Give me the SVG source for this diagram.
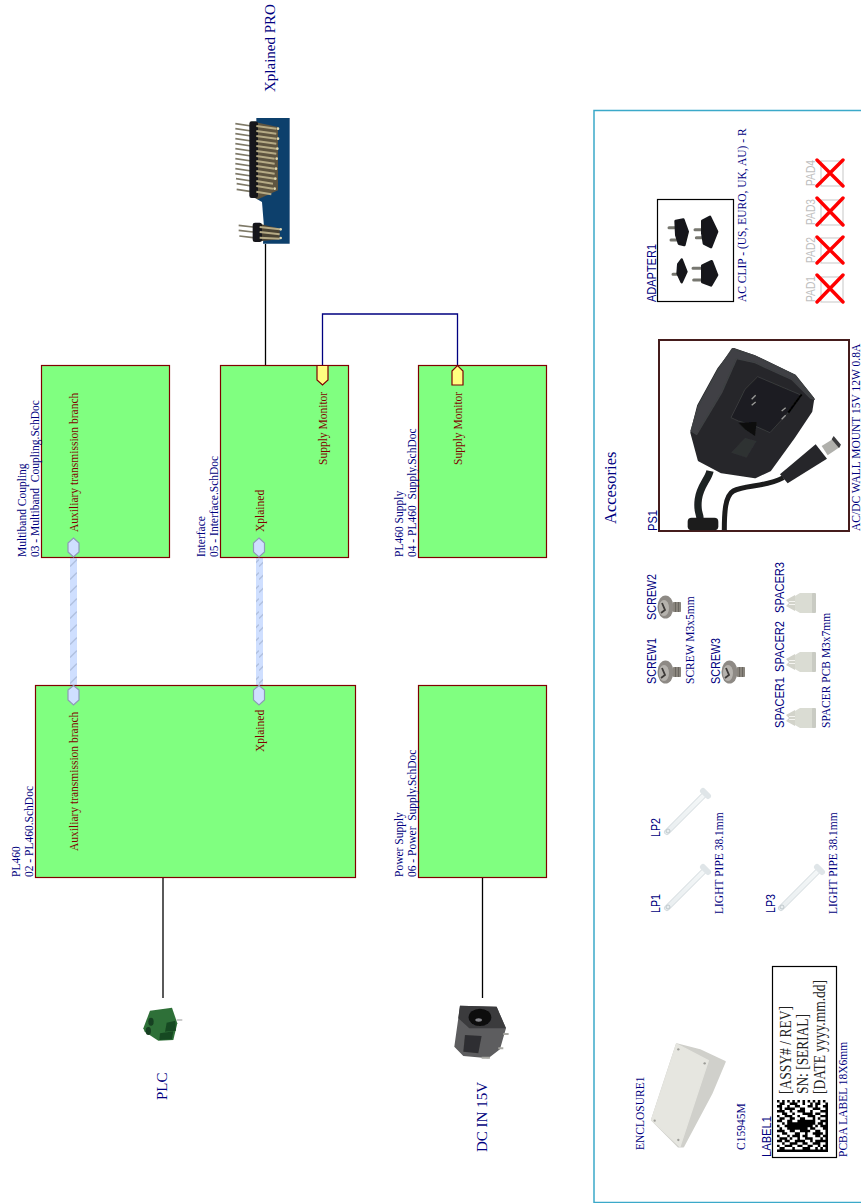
<svg xmlns="http://www.w3.org/2000/svg" width="861" height="1203" viewBox="0 0 861 1203">
<style>
text{font-family:"Liberation Serif","Times New Roman",serif;fill:#000080;font-size:11.500px;white-space:pre}
.sans{font-family:"Liberation Sans",Arial,sans-serif;font-size:13.500px}
.pad{font-family:"Liberation Sans",Arial,sans-serif;font-size:13.500px;fill:#c0c0c0}
.port{fill:#800000;font-size:11.500px}
.big{font-size:15px}
.lab{font-size:16px;fill:#222}
.box{fill:#80ff80;stroke:#800000;stroke-width:1.2}
.wire{fill:none;stroke:#000;stroke-width:1.3}
.sig{fill:none;stroke:#000080;stroke-width:1.3}
.bus{fill:url(#hatch)}
.hp{fill:#cfdfff;stroke:#8c9bb5;stroke-width:1.2}
.yp{fill:#ffff80;stroke:#800000;stroke-width:1.2}
.x{stroke:#ff0000;stroke-width:3.4;stroke-linecap:round}
.pin{stroke:#7f7a68;stroke-width:5}
.prong{stroke:#77776f;stroke-width:9;stroke-linecap:round}
.blk{fill:#15171a;stroke:#15171a;stroke-width:8;stroke-linejoin:round}
</style>
<defs>
<pattern id="hatch" patternUnits="userSpaceOnUse" width="7" height="13" x="0" y="557">
<rect width="7" height="13" fill="#cfdfff"/>
<path d="M0 9.500L7 2.500" stroke="#b0c0e0" stroke-width="1.400"/>
</pattern>
<filter id="soft" x="-10%" y="-10%" width="120%" height="120%"><feGaussianBlur stdDeviation="0.5"/></filter>
<linearGradient id="pipe" x1="0" y1="1" x2="1" y2="0"><stop offset="0" stop-color="#e9eef0"/><stop offset="1" stop-color="#f4f7f8"/></linearGradient>
<g id="screw" filter="url(#soft)">
<rect x="10" y="-5" width="8" height="10" rx="1" fill="#6a6660"/>
<path d="M11 -5V5M14 -5V5M17 -5V5" stroke="#a9a49a" stroke-width="1"/>
<ellipse cx="2.500" cy="0" rx="8" ry="11.500" fill="#8e8a85"/>
<ellipse cx="1" cy="1" rx="5" ry="8" fill="#b5b2ad"/>
<path d="M-1 -4L2 3L-2 6" stroke="#3d3a38" stroke-width="1.800" fill="none"/>
</g>
<g id="spacer" filter="url(#soft)">
<path d="M-9 -8L-18 -3L-15 0L-18 3L-9 8Z" fill="#d2d3ca"/>
<path d="M-15 -1.500H-9M-15 1.500H-9" stroke="#f4f4f0" stroke-width="1"/>
<path d="M-9 -7L-4 -10H9L12 -7V7L9 10H-4L-9 7Z" fill="#dadcd3"/>
<rect x="8" y="-10" width="4" height="20" rx="1" fill="#c9cbc3"/>
</g>
<g id="lpipe" filter="url(#soft)">
<path d="M0 0L38 -38" stroke="#d6dde0" stroke-width="6" stroke-linecap="round"/>
<path d="M0 0L38 -38" stroke="url(#pipe)" stroke-width="4" stroke-linecap="round"/>
<path d="M36 -41L41 -36" stroke="#dfe5e8" stroke-width="6" stroke-linecap="round"/>
<circle cx="1" cy="-1" r="2" fill="none" stroke="#bfc8cc"/>
</g>
</defs>
<rect width="861" height="1203" fill="#fff"/>

<g id="connectors">
<path class="wire" d="M265.500 244V365"/>
<path class="wire" d="M163 877V998"/>
<path class="wire" d="M482.500 877V998"/>
<path class="sig" d="M322.500 365V314H457.500V365"/>
<rect class="bus" x="70" y="557" width="7" height="128"/>
<rect class="bus" x="256" y="557" width="7" height="128"/>
</g>

<g id="multiband">
<rect class="box" x="41.500" y="365.500" width="128" height="192"/>
<text transform="translate(25.500,557) rotate(-90)">Multiband Coupling</text>
<text transform="translate(38.500,557) rotate(-90)">03 - Multiband  Coupling.SchDoc</text>
<polygon class="hp" points="73.500,538 79,543 79,552 73.500,557 68,552 68,543"/>
<text class="port" transform="translate(77.500,532) rotate(-90)">Auxiliary transmission branch</text>
</g>
<g id="interface">
<rect class="box" x="220.500" y="365.500" width="128" height="192"/>
<text transform="translate(204.500,557) rotate(-90)">Interface</text>
<text transform="translate(217.500,557) rotate(-90)">05 - Interface.SchDoc</text>
<polygon class="hp" points="259,538 264.500,543 264.500,552 259,557 253.500,552 253.500,543"/>
<text class="port" transform="translate(263.500,532) rotate(-90)">Xplained</text>
<polygon class="yp" points="317,365.500 328,365.500 328,380 322.500,385 317,380"/>
<text class="port" transform="translate(326.500,465) rotate(-90)">Supply Monitor</text>
</g>
<g id="pl460-supply">
<rect class="box" x="418.500" y="365.500" width="128" height="192"/>
<text transform="translate(402.500,557) rotate(-90)">PL460 Supply</text>
<text transform="translate(415.500,557) rotate(-90)">04 - PL460  Supply.SchDoc</text>
<polygon class="yp" points="452,385 463,385 463,371 457.500,365.500 452,371"/>
<text class="port" transform="translate(461.500,465) rotate(-90)">Supply Monitor</text>
</g>
<g id="pl460">
<rect class="box" x="35.500" y="685.500" width="320" height="192"/>
<text transform="translate(19.500,877) rotate(-90)">PL460</text>
<text transform="translate(32.500,877) rotate(-90)">02 - PL460.SchDoc</text>
<polygon class="hp" points="73.500,685.500 79,690 79,700 73.500,705 68,700 68,690"/>
<polygon class="hp" points="259,685.500 264.500,690 264.500,700 259,705 253.500,700 253.500,690"/>
<text class="port" transform="translate(77.500,851) rotate(-90)">Auxiliary transmission branch</text>
<text class="port" transform="translate(263.500,752) rotate(-90)">Xplained</text>
</g>
<g id="power-supply">
<rect class="box" x="418.500" y="685.500" width="128" height="192"/>
<text transform="translate(402.500,877) rotate(-90)">Power Supply</text>
<text transform="translate(415.500,877) rotate(-90)">06 - Power  Supply.SchDoc</text>
</g>

<g id="xplained-pro">
<text class="big" transform="translate(275,92) rotate(-90)">Xplained PRO</text>
<g transform="translate(228,112) scale(.3333)" filter="url(#soft)">
<path d="M85 18H185V395H105L108 345L102 270L85 260Z" fill="#10406c"/>
<g class="pin">
<path d="M22 35L70 42M22 50L70 57M22 65L70 72M22 80L70 87M22 95L70 102M22 110L70 117M22 125L70 132M22 140L70 147M22 155L70 162M22 170L70 177M22 185L70 192M24 200L70 207M26 215L70 222M26 232L70 239"/>
<path d="M32 340L75 345M32 355L75 360M34 372L75 377"/>
</g>
<path d="M80 30L150 45V235L90 262L80 258Z" fill="#5e5440"/>
<path d="M95 335L155 350V382L95 388Z" fill="#4a4232"/>
<rect class="blk" x="68" y="32" width="18" height="222" rx="3"/>
<rect class="blk" x="78" y="336" width="20" height="50" rx="3"/>
<g stroke="#b5aa85" stroke-width="6">
<path d="M85 42L145 50M85 57L145 65M85 72L145 80M85 87L145 95M85 102L145 110M85 117L145 125M85 132L140 140M85 147L140 155M85 162L140 170M85 177L140 185M85 192L140 200M85 207L135 215M85 222L135 230M85 239L130 247"/>
<path d="M95 345L155 352M95 360L155 367M95 377L155 380"/>
</g>
<g fill="#e0d8b0">
<circle cx="150" cy="50" r="4"/><circle cx="150" cy="80" r="4"/><circle cx="148" cy="110" r="4"/><circle cx="146" cy="140" r="4"/><circle cx="144" cy="170" r="4"/><circle cx="142" cy="200" r="4"/><circle cx="140" cy="230" r="4"/><circle cx="158" cy="352" r="4"/><circle cx="158" cy="378" r="4"/>
</g>
</g>
</g>

<g id="plc">
<text class="big" transform="translate(167,1100) rotate(-90)">PLC</text>
<g transform="translate(120,960) scale(.3333)" filter="url(#soft)">
<path d="M90 152L156 143L172 190L160 240L115 242L74 215L70 205Z" fill="#2f7038"/>
<path d="M140 188L166 182L168 212L135 215ZM120 220L160 214L156 238L118 240Z" fill="#184a24"/>
<ellipse cx="93" cy="185" rx="8" ry="12" fill="#163f20"/>
<ellipse cx="85" cy="213" rx="8" ry="12" fill="#163f20"/>
<path d="M170 180H187" stroke="#999" stroke-width="3"/>
</g>
</g>
<g id="dc-in">
<text class="big" transform="translate(486.500,1152) rotate(-90)">DC IN 15V</text>
<g transform="translate(120,960) scale(.3333)" filter="url(#soft)">
<path d="M1020 137L1130 140L1158 205L1140 268L1105 295L1030 288L1003 260L1015 175Z" fill="#5d5d5f"/>
<path d="M1020 137L1130 140L1158 205L1048 205L1015 175Z" fill="#3a3a3c"/>
<ellipse cx="1080" cy="172" rx="34" ry="26" fill="#0c0c0d"/>
<ellipse cx="1076" cy="180" rx="10" ry="5" fill="#85858a"/>
<path d="M1035 225L1085 228L1075 280L1030 275Z" fill="#2f2f31"/>
<path d="M1150 222H1166M1135 265H1150M1085 293H1110" stroke="#a9a9a4" stroke-width="6"/>
</g>
</g>

<g id="accessories-frame">
<path d="M861 110.500H594V1202.500H861" fill="none" stroke="#3ba9c9" stroke-width="1.500"/>
<text transform="translate(616,524) rotate(-90)" style="font-size:16.500px">Accesories</text>
</g>

<g id="adapter1">
<rect x="657.500" y="199.500" width="76" height="102" fill="#fff" stroke="#000" stroke-width="1.200"/>
<text class="sans" textLength="58" lengthAdjust="spacingAndGlyphs" transform="translate(655.500,302) rotate(-90)">ADAPTER1</text>
<text transform="translate(746,302) rotate(-90)">AC CLIP - (US, EURO, UK, AU) - R</text>
<g transform="translate(655,195) scale(.3333)" filter="url(#soft)">
<path class="prong" d="M42 98H64M48 135H66M120 104H142M124 128H142M54 238H72M114 220H142M116 255H142"/>
<path class="blk" d="M62 78L85 74L98 110L88 150L72 146L64 120ZM142 78L165 66L186 110L168 156L147 146L142 115ZM70 208L80 194L94 230L80 261L68 235ZM142 212L170 199L186 240L168 271L142 261Z"/>
</g>
</g>
<g id="ps1">
<rect x="659" y="340" width="190" height="191" fill="#fff" stroke="#451c1c" stroke-width="2"/>
<text class="sans" textLength="21" lengthAdjust="spacingAndGlyphs" transform="translate(656.500,531) rotate(-90)">PS1</text>
<text transform="translate(859.500,531) rotate(-90)">AC/DC WALL MOUNT 15V 12W 0.8A</text>
<g transform="translate(655,336) scale(.3333)" filter="url(#soft)">
<path d="M165 405C160 430 135 450 130 490S135 530 135 548" fill="none" stroke="#1f2022" stroke-width="22"/>
<rect x="98" y="545" width="92" height="38" rx="12" fill="#1a1b1d"/>
<path d="M385 425C330 455 270 445 235 465C210 480 208 530 208 583" fill="none" stroke="#1a1b1d" stroke-width="15"/>
<path d="M375 415L482 325L516 368L398 442Z" fill="#26272a"/>
<path d="M500 330L540 305L556 332L518 358Z" fill="#b0b0ac"/>
<path d="M536 300L558 326L552 336L530 310Z" fill="#3a3a3c"/>
<path d="M236 40L300 62L420 120L474 188L468 226L415 305L345 402L300 423L200 408L132 372L110 290L130 210L190 100Z" fill="#26272a" stroke="#26272a" stroke-width="8" stroke-linejoin="round"/>
<path d="M232 38L300 60L420 118L478 190L466 186L410 130L300 80L245 68L200 170L125 295L108 285L130 210L190 100Z" fill="#3f4044" stroke="#3f4044" stroke-width="4" stroke-linejoin="round"/>
<path d="M308 122L440 178L395 235L345 290L300 270L250 255L228 245L270 160Z" fill="#1d1e20" stroke="#38393c" stroke-width="3" stroke-linejoin="round"/>
<path d="M250 260L305 258L300 300L270 280Z" fill="#0e0e0f"/>
<path d="M270 305L305 315L275 365L228 350Z" fill="#2f3033"/>
<path d="M290 190L302 178M290 208L302 198M380 225L392 215M380 250L392 238" stroke="#9a9a9a" stroke-width="4"/>
<path d="M440 175L400 230" stroke="#050505" stroke-width="6"/>
</g>
</g>
<g id="screws">
<text class="sans" textLength="46" lengthAdjust="spacingAndGlyphs" transform="translate(655.500,684) rotate(-90)">SCREW1</text>
<text class="sans" textLength="46" lengthAdjust="spacingAndGlyphs" transform="translate(655.500,620) rotate(-90)">SCREW2</text>
<text class="sans" textLength="46" lengthAdjust="spacingAndGlyphs" transform="translate(719.500,684) rotate(-90)">SCREW3</text>
<text transform="translate(693.500,684) rotate(-90)">SCREW M3x5mm</text>
<use href="#screw" x="663" y="672"/>
<use href="#screw" x="663" y="607"/>
<use href="#screw" x="727" y="672"/>
</g>
<g id="spacers">
<text class="sans" textLength="51" lengthAdjust="spacingAndGlyphs" transform="translate(783.500,728) rotate(-90)">SPACER1</text>
<text class="sans" textLength="51" lengthAdjust="spacingAndGlyphs" transform="translate(783.500,672) rotate(-90)">SPACER2</text>
<text class="sans" textLength="51" lengthAdjust="spacingAndGlyphs" transform="translate(783.500,613) rotate(-90)">SPACER3</text>
<text transform="translate(829.500,728) rotate(-90)">SPACER PCB M3x7mm</text>
<use href="#spacer" x="804" y="718"/>
<use href="#spacer" x="804" y="662"/>
<use href="#spacer" x="804" y="603"/>
</g>
<g id="light-pipes">
<text class="sans" textLength="19" lengthAdjust="spacingAndGlyphs" transform="translate(659.500,913) rotate(-90)">LP1</text>
<text class="sans" textLength="19" lengthAdjust="spacingAndGlyphs" transform="translate(659.500,837) rotate(-90)">LP2</text>
<text class="sans" textLength="19" lengthAdjust="spacingAndGlyphs" transform="translate(774.500,913) rotate(-90)">LP3</text>
<text transform="translate(722.500,914) rotate(-90)">LIGHT PIPE 38.1mm</text>
<text transform="translate(837,914) rotate(-90)">LIGHT PIPE 38.1mm</text>
<use href="#lpipe" x="667" y="908"/>
<use href="#lpipe" x="667" y="832"/>
<use href="#lpipe" x="781" y="908"/>
</g>
<g id="enclosure1">
<text transform="translate(643.500,1150) rotate(-90)">ENCLOSURE1</text>
<text transform="translate(744.500,1150) rotate(-90)">C15945M</text>
<g transform="translate(640,1030) scale(.3333)" filter="url(#soft)">
<path d="M110 42L180 60L255 95L215 190L130 350L115 350L35 270Z" fill="#d0d0cb" stroke="#d0d0cb" stroke-width="5" stroke-linejoin="round"/>
<path d="M110 42L205 92L120 350L35 270Z" fill="#e6e6e0" stroke="#e6e6e0" stroke-width="4" stroke-linejoin="round"/>
<g fill="#9d9d98"><circle cx="115" cy="58" r="3.500"/><circle cx="194" cy="100" r="3.500"/><circle cx="115" cy="330" r="3.500"/><circle cx="44" cy="272" r="3.500"/></g>
</g>
</g>
<g id="label1">
<rect x="772.500" y="966.500" width="64" height="191" fill="#fff" stroke="#000" stroke-width="1.200"/>
<text class="sans" textLength="41" lengthAdjust="spacingAndGlyphs" transform="translate(771,1157) rotate(-90)">LABEL1</text>
<text transform="translate(846.500,1157) rotate(-90)">PCBA LABEL 18X6mm</text>
<text class="lab" textLength="88" lengthAdjust="spacingAndGlyphs" transform="translate(791,1094) rotate(-90)">[ASSY# / REV]</text>
<text class="lab" textLength="80" lengthAdjust="spacingAndGlyphs" transform="translate(808,1094) rotate(-90)">SN: [SERIAL]</text>
<text class="lab" textLength="114" lengthAdjust="spacingAndGlyphs" transform="translate(825,1094) rotate(-90)">[DATE yyyy.mm.dd]</text>
<g transform="translate(777,1100) scale(2.55,2.48)">
<path fill="#000" d="M0 0h1v1H0zM2 0h1v1H2zM4 0h1v1H4zM6 0h1v1H6zM8 0h1v1H8zM10 0h1v1H10zM12 0h1v1H12zM14 0h1v1H14zM16 0h1v1H16zM18 0h1v1H18z
M1 1h2v1H1zM5 1h3v1H5zM10 1h1v1H10zM13 1h1v1H13zM15 1h2v1H15zM19 1h1v1H19z
M0 2h2v1H0zM4 2h1v1H4zM7 2h2v1H7zM12 2h2v1H12zM15 2h1v1H15zM18 2h2v1H18z
M1 3h1v1H1zM3 3h4v1H3zM9 3h2v1H9zM14 3h3v1H14zM19 3h1v1H19z
M0 4h3v1H0zM5 4h1v1H5zM8 4h3v1H8zM13 4h1v1H13zM17 4h3v1H17z
M2 5h2v1H2zM6 5h1v1H6zM10 5h4v1H10zM15 5h2v1H15zM19 5h1v1H19z
M0 6h1v1H0zM3 6h3v1H3zM8 6h1v1H8zM12 6h3v1H12zM17 6h3v1H17z
M1 7h2v1H1zM5 7h2v1H5zM9 7h2v1H9zM14 7h1v1H14zM16 7h1v1H16zM19 7h1v1H19z
M0 8h2v1H0zM4 8h2v1H4zM8 8h7v1H8zM17 8h3v1H17z
M2 9h1v1H2zM4 9h11v1H4zM16 9h2v1H16zM19 9h1v1H19z
M0 10h1v1H0zM3 10h11v1H3zM15 10h1v1H15zM17 10h3v1H17z
M1 11h1v1H1zM4 11h8v1H4zM13 11h2v1H13zM18 11h2v1H18z
M0 12h3v1H0zM5 12h2v1H5zM9 12h4v1H9zM15 12h2v1H15zM19 12h1v1H19z
M2 13h2v1H2zM7 13h2v1H7zM11 13h1v1H11zM14 13h4v1H14zM19 13h1v1H19z
M0 14h1v1H0zM4 14h1v1H4zM6 14h3v1H6zM10 14h2v1H10zM15 14h2v1H15zM18 14h2v1H18z
M1 15h3v1H1zM5 15h1v1H5zM8 15h1v1H8zM11 15h3v1H11zM17 15h1v1H17zM19 15h1v1H19z
M0 16h2v1H0zM3 16h2v1H3zM7 16h4v1H7zM13 16h1v1H13zM15 16h5v1H15z
M2 17h1v1H2zM5 17h3v1H5zM10 17h2v1H10zM14 17h3v1H14zM19 17h1v1H19z
M0 18h1v1H0zM3 18h3v1H3zM8 18h2v1H8zM12 18h2v1H12zM16 18h1v1H16zM18 18h2v1H18z
M1 19h2v1H1zM6 19h1v1H6zM10 19h3v1H10zM15 19h1v1H15zM17 19h1v1H17zM19 19h1v1H19z
M0 20h20v1H0z"/>
</g>
</g>
<g id="pads">
<text class="pad" textLength="26" lengthAdjust="spacingAndGlyphs" transform="translate(815,302) rotate(-90)">PAD1</text>
<text class="pad" textLength="26" lengthAdjust="spacingAndGlyphs" transform="translate(815,263) rotate(-90)">PAD2</text>
<text class="pad" textLength="26" lengthAdjust="spacingAndGlyphs" transform="translate(815,225) rotate(-90)">PAD3</text>
<text class="pad" textLength="26" lengthAdjust="spacingAndGlyphs" transform="translate(815,186) rotate(-90)">PAD4</text>
<g fill="none" stroke="#d0d0d0" stroke-width="1.200">
<rect x="821" y="277" width="22" height="25"/><rect x="821" y="238" width="22" height="25"/><rect x="821" y="200" width="22" height="25"/><rect x="821" y="161" width="22" height="25"/>
</g>
<path class="x" d="M817 275L843 302M843 275L817 302M817 237L843 263M843 237L817 263M817 198L843 225M843 198L817 225M817 160L843 186M843 160L817 186"/>
</g>
</svg>
